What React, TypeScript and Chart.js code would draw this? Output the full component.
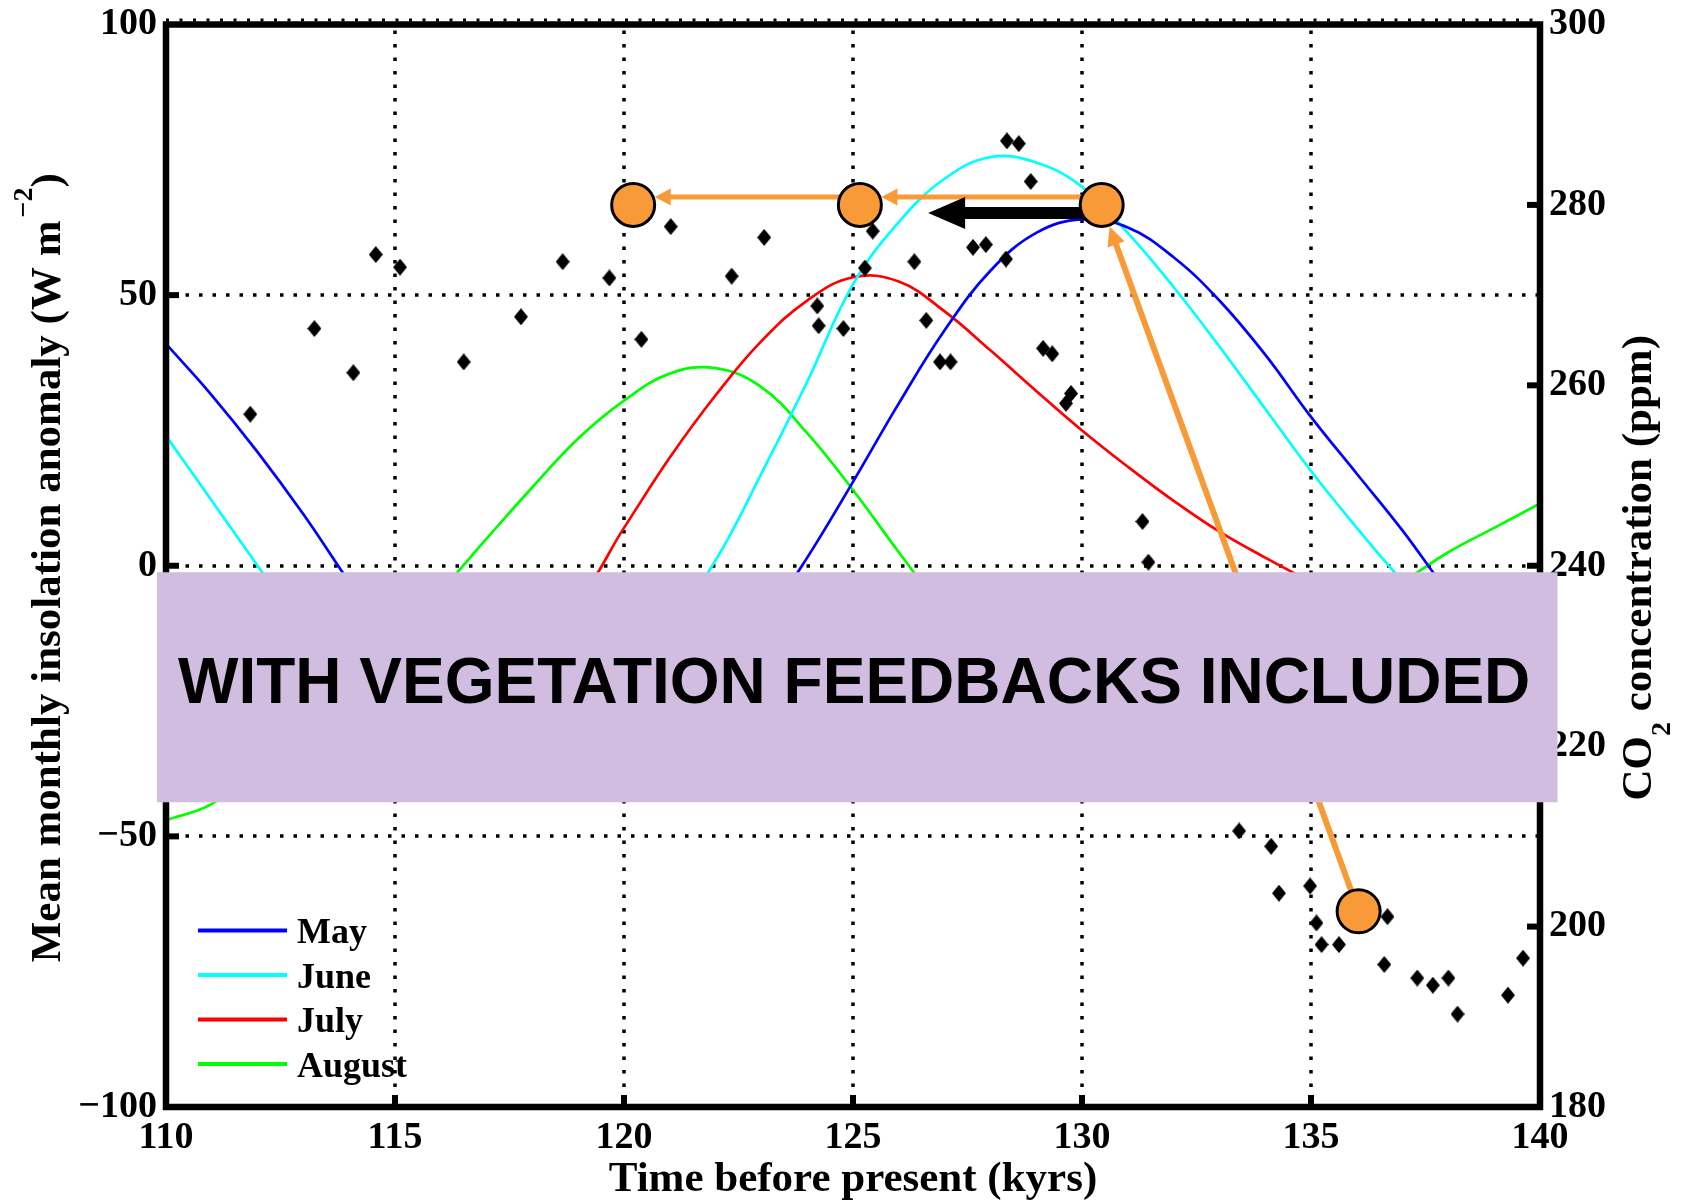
import React, { useEffect, useRef } from 'react';
import { Chart, registerables } from 'chart.js';

Chart.register(...registerables);

// Age axis (kyr before present) for the monthly insolation curves
const years = [
  110, 111, 112, 113, 114, 115, 116, 117, 118, 119, 120, 121, 122, 123, 124, 125,
  126, 127, 128, 129, 130, 131, 132, 133, 134, 135, 136, 137, 138, 139, 140,
];

// Mean monthly insolation anomaly (W m-2)
const mayAnomaly = [
  41, 31.5, 21, 9.5, -3, -15, -25, -32, -36, -37, -35, -29, -21, -11, 1.5, 15.5,
  30, 43.5, 54.5, 61.5, 64, 62.5, 57, 49, 39, 27.5, 17, 6.5, -5, -15, -24,
];
const juneAnomaly = [
  24, 12, 0, -12, -22, -30, -36, -38.5, -37, -31, -22, -11, 1, 17, 34, 52,
  63.5, 71.5, 75.5, 74.5, 70, 61.5, 51.5, 40.5, 29, 17.5, 7, -3, -13, -22, -30,
];
const julyAnomaly = [
  -14, -21, -26, -29, -30, -28, -24, -18, -11, -6, 7, 20, 31.5, 41.5, 49, 53.3,
  52.5, 47, 39.8, 32.3, 25, 18.3, 12, 6.3, 1.5, -3, -7.5, -12, -17, -21, -25,
];
const augustAnomaly = [
  -47, -44, -37, -30, -21.5, -12.5, -4.5, 5, 14.5, 23.5, 30.5, 35.5, 36.5, 33, 24.5, 14,
  2.5, -8.5, -18, -25, -30, -32, -31, -27, -21, -14, -8, -3, 2.5, 7, 11.5,
];

// Ice-core CO2 record
const co2Age = [
  111.84, 113.24, 114.09, 114.58, 115.11, 116.5, 117.75, 118.66, 119.68, 120.38,
  121.02, 122.35, 123.06, 124.22, 124.25, 124.79, 125.26, 125.43, 126.34, 126.6,
  126.9, 127.13, 127.62, 127.9, 128.34, 128.36, 128.62, 128.88, 129.15, 129.35,
  129.65, 129.76, 131.32, 131.45, 133.43, 134.13, 134.3, 134.98, 135.12, 135.23,
  135.61, 136.67, 136.6, 137.32, 137.66, 138.0, 138.2, 139.3, 139.63,
];
const co2Ppm = [
  256.8, 266.3, 261.4, 274.5, 273.1, 262.6, 267.6, 273.7, 271.9, 265.1,
  277.6, 272.1, 276.4, 268.8, 266.6, 266.3, 273.0, 277.1, 273.7, 267.2,
  262.6, 262.6, 275.3, 275.6, 274.0, 287.1, 286.8, 282.6, 264.1, 263.5,
  258.0, 259.1, 244.9, 240.4, 210.6, 208.9, 203.7, 204.5, 200.4, 198.0,
  198.0, 201.1, 195.8, 194.3, 193.5, 194.3, 190.3, 192.4, 196.5,
];

// Highlighted states on the CO2 axis and the transitions between them
const markerAge = [120.2, 125.15, 130.43, 136.04];
const markerPpm = [280, 280, 280, 201.7];
const orangeArrows = [
  [2, 1],
  [1, 0],
  [3, 2],
];
const blackArrowAge = [130.3, 126.64];
const blackArrowPpm = 279.1;

// Axis ticks
const ageTicks = [110, 115, 120, 125, 130, 135, 140];
const insolationTicks = [-100, -50, 0, 50, 100];
const co2Ticks = [180, 200, 220, 240, 260, 280, 300];

const monthNames = ['May', 'June', 'July', 'August'];
const monthColors = ['#0000ff', '#00ffff', '#ff0000', '#00ff00'];

const bannerText = 'WITH VEGETATION FEEDBACKS INCLUDED';
const xTitle = 'Time before present (kyrs)';
const leftTitle = 'Mean monthly insolation anomaly (W m';
const rightTitleHead = 'CO';
const rightTitleTail = ' concentration (ppm)';

const SERIF = '"Liberation Serif", "Times New Roman", serif';
const SANS = '"Liberation Sans", Arial, sans-serif';
const ORANGE = '#f99a38';
const MARKER_R = 23;

const fmt = (v: number) => (v < 0 ? '\u2212' + Math.abs(v) : String(v));

function makeDiamond(): HTMLCanvasElement {
  const c = document.createElement('canvas');
  c.width = 14;
  c.height = 17;
  const g = c.getContext('2d')!;
  g.fillStyle = '#000';
  g.beginPath();
  g.moveTo(7, 0);
  g.lineTo(14, 8.5);
  g.lineTo(7, 17);
  g.lineTo(0, 8.5);
  g.closePath();
  g.fill();
  return c;
}

function drawArrow(
  ctx: CanvasRenderingContext2D,
  x0: number, y0: number, x1: number, y1: number,
  width: number, headLen: number, headHalf: number, color: string,
) {
  const ang = Math.atan2(y1 - y0, x1 - x0);
  const c = Math.cos(ang);
  const s = Math.sin(ang);
  const bx = x1 - headLen * c;
  const by = y1 - headLen * s;
  ctx.save();
  ctx.strokeStyle = color;
  ctx.fillStyle = color;
  ctx.lineWidth = width;
  ctx.lineCap = 'butt';
  ctx.setLineDash([]);
  ctx.beginPath();
  ctx.moveTo(x0, y0);
  ctx.lineTo(bx + c, by + s);
  ctx.stroke();
  ctx.beginPath();
  ctx.moveTo(x1, y1);
  ctx.lineTo(bx - headHalf * s, by + headHalf * c);
  ctx.lineTo(bx + headHalf * s, by - headHalf * c);
  ctx.closePath();
  ctx.fill();
  ctx.restore();
}

const dottedGrid = {
  id: 'dottedGrid',
  beforeDatasetsDraw(chart: any) {
    const { ctx, chartArea: a, scales } = chart;
    ctx.save();
    ctx.strokeStyle = '#000';
    ctx.lineWidth = 3.5;
    ctx.setLineDash([3.5, 10]);
    ageTicks.slice(1, -1).forEach((v) => {
      const x = Math.round(scales.x.getPixelForValue(v));
      ctx.beginPath();
      ctx.moveTo(x, a.top + 6);
      ctx.lineTo(x, a.bottom);
      ctx.stroke();
    });
    insolationTicks.slice(1, -1).forEach((v) => {
      const y = Math.round(scales.y.getPixelForValue(v));
      ctx.beginPath();
      ctx.moveTo(a.left + 6, y);
      ctx.lineTo(a.right, y);
      ctx.stroke();
    });
    ctx.restore();
  },
};

const frame = {
  id: 'frame',
  afterDatasetsDraw(chart: any) {
    const { ctx, chartArea: a, scales } = chart;
    ctx.save();
    ctx.strokeStyle = '#000';
    ctx.setLineDash([]);
    ctx.lineWidth = 6.5;
    ctx.lineJoin = 'miter';
    ctx.strokeRect(a.left, a.top, a.right - a.left, a.bottom - a.top);
    // inward tick marks
    ctx.lineWidth = 6;
    insolationTicks.slice(1, -1).forEach((v) => {
      const y = scales.y.getPixelForValue(v);
      ctx.beginPath();
      ctx.moveTo(a.left, y);
      ctx.lineTo(a.left + 13, y);
      ctx.stroke();
    });
    co2Ticks.slice(1, -1).forEach((v) => {
      const y = scales.y2.getPixelForValue(v);
      ctx.beginPath();
      ctx.moveTo(a.right, y);
      ctx.lineTo(a.right - 13, y);
      ctx.stroke();
    });
    ageTicks.slice(1, -1).forEach((v) => {
      const x = scales.x.getPixelForValue(v);
      ctx.beginPath();
      ctx.moveTo(x, a.bottom);
      ctx.lineTo(x, a.bottom - 12);
      ctx.stroke();
    });
    // minor dotted edge along the top frame
    ctx.lineWidth = 3;
    ctx.setLineDash([3, 10.5]);
    ctx.beginPath();
    ctx.moveTo(a.left, a.top - 4.5);
    ctx.lineTo(a.right, a.top - 4.5);
    ctx.stroke();
    ctx.restore();
  },
};

const transitionArrows = {
  id: 'transitionArrows',
  beforeDatasetDraw(chart: any, args: any) {
    if (args.index !== 5) return;
    const { ctx, scales } = chart;
    const px = (i: number) => scales.x.getPixelForValue(markerAge[i]);
    const py = (i: number) => scales.y2.getPixelForValue(markerPpm[i]);
    orangeArrows.forEach(([from, to]) => {
      const flat = markerPpm[from] === markerPpm[to];
      const lift = flat ? -8 : 0;
      const sx = px(from);
      const sy = py(from) + lift;
      const tx = px(to);
      const ty = py(to) + lift;
      const cx = px(to);
      const cy = py(to);
      const dx = tx - sx;
      const dy = ty - sy;
      const qa = dx * dx + dy * dy;
      const qb = 2 * (dx * (sx - cx) + dy * (sy - cy));
      const qc = (sx - cx) ** 2 + (sy - cy) ** 2 - MARKER_R * MARKER_R;
      const t = (-qb - Math.sqrt(qb * qb - 4 * qa * qc)) / (2 * qa);
      const ex = sx + t * dx;
      const ey = sy + t * dy;
      if (flat) drawArrow(ctx, sx, sy, ex, ey, 5, 16, 8.5, ORANGE);
      else drawArrow(ctx, sx, sy, ex, ey, 6, 19, 9, ORANGE);
    });
    const by = scales.y2.getPixelForValue(blackArrowPpm);
    drawArrow(
      ctx,
      scales.x.getPixelForValue(blackArrowAge[0]), by,
      scales.x.getPixelForValue(blackArrowAge[1]), by,
      12, 37, 16, '#000',
    );
  },
};

const axisTitles = {
  id: 'axisTitles',
  afterDraw(chart: any) {
    const { ctx, chartArea: a } = chart;
    const midY = (a.top + a.bottom) / 2 + 2;
    ctx.save();
    ctx.fillStyle = '#000';
    ctx.textBaseline = 'alphabetic';
    ctx.textAlign = 'left';

    // left title with superscript
    const mainFont = `bold 43px ${SERIF}`;
    const supFont = `bold 28px ${SERIF}`;
    ctx.font = mainFont;
    const w1 = ctx.measureText(leftTitle).width;
    const w3 = ctx.measureText(')').width;
    ctx.font = supFont;
    const w2 = ctx.measureText('\u22122').width;
    const gap = 3;
    const total = w1 + gap + w2 + w3;
    ctx.save();
    ctx.translate(60, midY);
    ctx.rotate(-Math.PI / 2);
    let x = -total / 2;
    ctx.font = mainFont;
    ctx.fillText(leftTitle, x, 0);
    x += w1 + gap;
    ctx.font = supFont;
    ctx.fillText('\u22122', x, -28);
    x += w2;
    ctx.font = mainFont;
    ctx.fillText(')', x, 0);
    ctx.restore();

    // right title with subscript
    const subFont = `bold 28px ${SERIF}`;
    ctx.font = mainFont;
    const r1 = ctx.measureText(rightTitleHead).width;
    const r3 = ctx.measureText(rightTitleTail).width;
    ctx.font = subFont;
    const r2 = ctx.measureText('2').width;
    const rTotal = r1 + r2 + r3;
    ctx.save();
    ctx.translate(1651, midY);
    ctx.rotate(-Math.PI / 2);
    let rx = -rTotal / 2;
    ctx.font = mainFont;
    ctx.fillText(rightTitleHead, rx, 0);
    rx += r1;
    ctx.font = subFont;
    ctx.fillText('2', rx, 19);
    rx += r2;
    ctx.font = mainFont;
    ctx.fillText(rightTitleTail, rx, 0);
    ctx.restore();
    ctx.restore();
  },
};

const monthLegend = {
  id: 'monthLegend',
  afterDraw(chart: any) {
    const { ctx } = chart;
    ctx.save();
    ctx.font = `bold 36px ${SERIF}`;
    ctx.textBaseline = 'alphabetic';
    ctx.textAlign = 'left';
    monthNames.forEach((name, i) => {
      const y = 930.5 + i * 44.5;
      ctx.strokeStyle = monthColors[i];
      ctx.lineWidth = 4;
      ctx.beginPath();
      ctx.moveTo(198, y);
      ctx.lineTo(287, y);
      ctx.stroke();
      ctx.fillStyle = '#000';
      ctx.fillText(name, 297, y + 12.5);
    });
    ctx.restore();
  },
};

const banner = {
  id: 'banner',
  afterDraw(chart: any) {
    const { ctx, chartArea: a, scales } = chart;
    const top = scales.y.getPixelForValue(-1.2);
    const bottom = scales.y.getPixelForValue(-43.7);
    const left = a.left - 9;
    const right = a.right + 17.5;
    ctx.save();
    ctx.fillStyle = '#d1bde0';
    ctx.fillRect(left, top, right - left, bottom - top);
    ctx.fillStyle = '#000';
    ctx.font = `bold 64px ${SANS}`;
    ctx.textAlign = 'left';
    ctx.textBaseline = 'alphabetic';
    ctx.fillText(bannerText, left + 21, top + 131);
    ctx.restore();
  },
};

export default function App() {
  const ref = useRef<HTMLCanvasElement | null>(null);

  useEffect(() => {
    const canvas = ref.current;
    if (!canvas) return;
    const diamond = makeDiamond();
    const curve = (vals: number[], i: number) => ({
      type: 'line' as const,
      label: monthNames[i],
      data: years.map((x, k) => ({ x, y: vals[k] })),
      yAxisID: 'y',
      borderColor: monthColors[i],
      borderWidth: 2.7,
      pointRadius: 0,
      tension: 0.4,
      fill: false,
      order: 3,
    });
    const tickFont = { family: SERIF, size: 38, weight: 'bold' as const, lineHeight: 1 };

    const chart = new Chart(canvas, {
      type: 'line',
      data: {
        datasets: [
          curve(mayAnomaly, 0),
          curve(juneAnomaly, 1),
          curve(julyAnomaly, 2),
          curve(augustAnomaly, 3),
          {
            type: 'scatter',
            label: 'CO2',
            data: co2Age.map((x, k) => ({ x, y: co2Ppm[k] })),
            yAxisID: 'y2',
            pointStyle: diamond as any,
            pointRadius: 8,
            showLine: false,
            order: 2,
          } as any,
          {
            type: 'scatter',
            label: 'states',
            data: markerAge.map((x, k) => ({ x, y: markerPpm[k] })),
            yAxisID: 'y2',
            pointStyle: 'circle',
            pointRadius: MARKER_R - 1.5,
            pointBorderWidth: 3,
            pointBackgroundColor: ORANGE,
            pointBorderColor: '#000',
            showLine: false,
            order: 1,
          } as any,
        ],
      },
      options: {
        responsive: false,
        animation: false,
        devicePixelRatio: 1,
        layout: { padding: { top: 21, left: 0, right: 0, bottom: 0 } },
        plugins: {
          legend: { display: false },
          tooltip: { enabled: false },
        },
        scales: {
          x: {
            type: 'linear',
            position: 'bottom',
            min: 110,
            max: 140,
            afterBuildTicks: (s: any) => {
              s.ticks = ageTicks.map((v) => ({ value: v }));
            },
            ticks: { font: tickFont, color: '#000', padding: 12, maxRotation: 0, autoSkip: false },
            grid: { display: false, drawTicks: false },
            border: { display: false },
            title: {
              display: true,
              text: xTitle,
              color: '#000',
              font: { family: SERIF, size: 43, weight: 'bold', lineHeight: 1.1 },
              padding: 0,
            },
            afterFit: (s: any) => {
              s.height = 97;
            },
          },
          y: {
            type: 'linear',
            position: 'left',
            min: -100,
            max: 100,
            afterBuildTicks: (s: any) => {
              s.ticks = insolationTicks.map((v) => ({ value: v }));
            },
            ticks: { font: tickFont, color: '#000', padding: 9, callback: (v: any) => fmt(Number(v)) },
            grid: { display: false, drawTicks: false },
            border: { display: false },
            afterFit: (s: any) => {
              s.width = 166;
              s.paddingTop = 0;
              s.paddingBottom = 0;
            },
          },
          y2: {
            type: 'linear',
            position: 'right',
            min: 180,
            max: 300,
            afterBuildTicks: (s: any) => {
              s.ticks = co2Ticks.map((v) => ({ value: v }));
            },
            ticks: { font: tickFont, color: '#000', padding: 9 },
            grid: { display: false, drawTicks: false },
            border: { display: false },
            afterFit: (s: any) => {
              s.width = 143;
              s.paddingTop = 0;
              s.paddingBottom = 0;
            },
          },
        },
      } as any,
      plugins: [dottedGrid, frame, transitionArrows, axisTitles, banner, monthLegend],
    });
    return () => chart.destroy();
  }, []);

  return (
    <div style={{ position: 'fixed', left: 0, top: 0, width: 1683, height: 1204, background: '#fff' }}>
      <canvas ref={ref} width={1683} height={1204} style={{ display: 'block' }} />
    </div>
  );
}
